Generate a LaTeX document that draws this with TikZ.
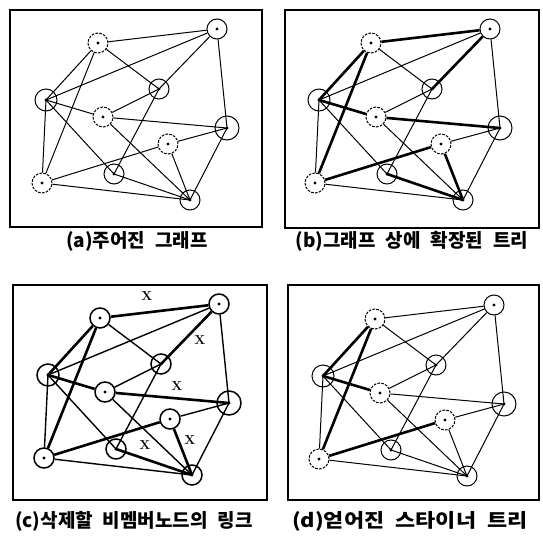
\documentclass[tikz,border=0pt]{standalone}
\usepackage{fontspec}
\newfontfamily\kr{Noto Sans CJK KR}
\newcommand\ws{\hspace{10pt}}
\newcommand\graphpanel[1]{%
  \node[nonmem] (#1-1) at (98,43) {};
  \node[mem] (#1-2) at (217,29) {};
  \node[mem, minimum size=22pt] (#1-3) at (46,100) {};
  \node[mem] (#1-4) at (159,89) {};
  \node[nonmem] (#1-5) at (103,117) {};
  \node[mem, minimum size=24pt] (#1-6) at (227,128) {};
  \node[nonmem] (#1-7) at (168,144) {};
  \node[nonmem] (#1-8) at (42,183) {};
  \node[mem] (#1-9) at (114,174) {};
  \node[mem] (#1-10) at (190,200) {};
  \foreach \i in {1,...,10} {\fill (#1-\i.center) circle (1.6);}
  % class A edges
  \draw[eA] (#1-1) -- (#1-3.center);
  \draw[eA] (#1-1) -- (#1-8);
  \draw[eA] (#1-3.center) -- (#1-5);
  \draw[eA] (#1-8) -- (#1-7);
  % class B edges
  \draw[eB] (#1-1) -- (#1-2);
  \draw[eB] (#1-5) -- (#1-6.center);
  \draw[eB] (#1-2) -- (#1-4.center);
  \draw[eB] (#1-7) -- (#1-10.center);
  \draw[eB] (#1-9.center) -- (#1-10.center);
  % class C edges
  \draw[eC] (#1-1) -- (#1-4.center);
  \draw[eC] (#1-3.center) -- (#1-2);
  \draw[eC] (#1-3.center) -- (#1-8);
  \draw[eC] (#1-3.center) -- (#1-9.center);
  \draw[eC] (#1-4.center) -- (#1-5);
  \draw[eC] (#1-4.center) -- (#1-9.center);
  \draw[eC] (#1-2) -- (#1-6.center);
  \draw[eC] (#1-5) -- (#1-10.center);
  \draw[eC] (#1-7) -- (#1-6.center);
  \draw[eC] (#1-8) -- (#1-10.center);
  \draw[eC] (#1-6.center) -- (#1-10.center);
}
\begin{document}
\begin{tikzpicture}[x=1pt,y=-1pt,
  frame/.style={draw, line width=1.4pt},
  nd/.style={circle, draw, line width=1pt, minimum size=20pt, inner sep=0pt},
  ndthick/.style={nd, line width=1.5pt},
  dnode/.style={nd, dash pattern=on 2.6pt off 1.3pt},
  thinedge/.style={line width=1pt},
  medge/.style={line width=1.4pt},
  boldedge/.style={line width=2.6pt},
  captext/.style={font=\kr\bfseries\fontsize{19}{19}\selectfont, inner sep=0pt},
  xmark/.style={font=\bfseries\fontsize{13}{13}\selectfont, inner sep=0pt}
]
\useasboundingbox (0,0) rectangle (543,538);
% frames
\draw[frame] (10,10) rectangle (262,227);
\draw[frame] (285,10) rectangle (539,228);
\draw[frame] (13,285) rectangle (267,500);
\draw[frame] (288,285) rectangle (539,500);
% (a)
\begin{scope}[nonmem/.style={dnode}, mem/.style={nd},
  eA/.style={thinedge}, eB/.style={thinedge}, eC/.style={thinedge}]
  \graphpanel{a}
\end{scope}
% (b)
\begin{scope}[shift={(273,0)}, nonmem/.style={dnode}, mem/.style={nd},
  eA/.style={boldedge}, eB/.style={boldedge}, eC/.style={thinedge}]
  \graphpanel{b}
\end{scope}
% (c)
\begin{scope}[shift={(2,275)}, nonmem/.style={ndthick}, mem/.style={ndthick},
  eA/.style={boldedge}, eB/.style={boldedge}, eC/.style={medge}]
  \graphpanel{c}
\end{scope}
% (d)
\begin{scope}[shift={(277,276)}, nonmem/.style={dnode}, mem/.style={nd},
  eA/.style={boldedge}, eB/.style={thinedge}, eC/.style={thinedge}]
  \graphpanel{d}
\end{scope}
% X marks in (c)
\node[xmark] (x1) at (147,296) {X};
\node[xmark] (x2) at (200,340) {X};
\node[xmark] (x3) at (177,386) {X};
\node[xmark] (x4) at (190,440) {X};
\node[xmark] (x5) at (145,445) {X};
% captions
\node[captext] (capa) at (137,241) {(a)주어진\ws 그래프};
\node[captext] (capb) at (412,241) {(b)그래프\ws 상에\ws 확장된\ws 트리};
\node[captext] (capc) at (134,521) {(c)삭제할\ws 비멤버노드의\ws 링크};
\node[captext] (capd) at (410,521) {\scalebox{1.15}[1]{(d)얻어진\ws 스타이너\ws 트리}};
\end{tikzpicture}
\end{document}
